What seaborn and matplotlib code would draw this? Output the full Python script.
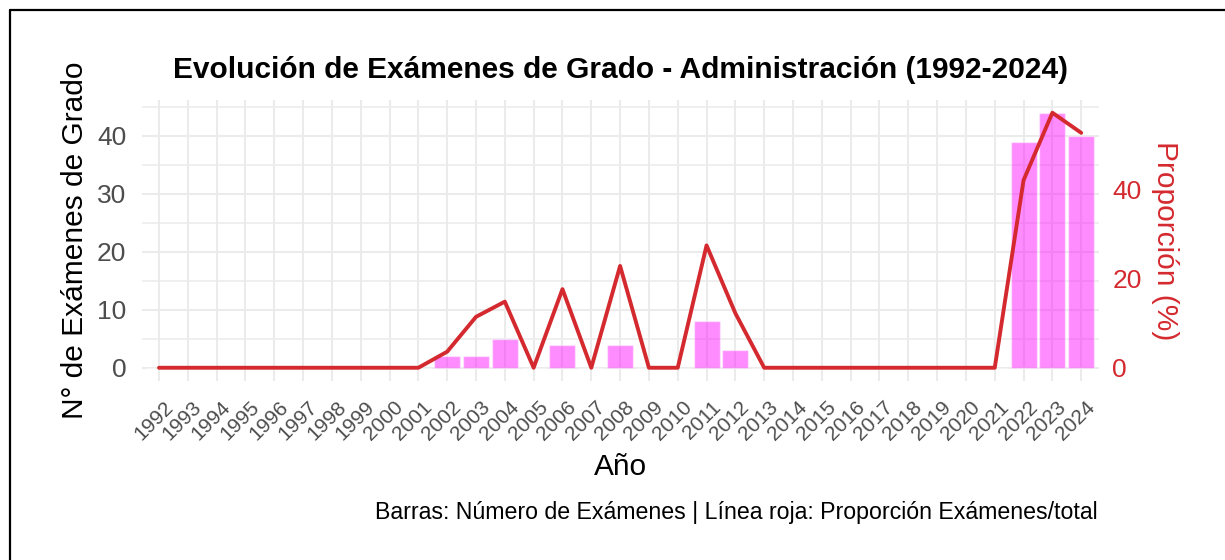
import numpy as np
import pandas as pd
import matplotlib
matplotlib.use('Agg')
import matplotlib.pyplot as plt
import matplotlib.transforms as mtransforms
from matplotlib.lines import Line2D
from matplotlib.ticker import MultipleLocator
import seaborn as sns

# datos
years = [str(y) for y in range(1992, 2025)]
examenes = [0, 0, 0, 0, 0, 0, 0, 0, 0, 0,
            2, 2, 5, 0, 4, 0, 4, 0, 0, 8, 3,
            0, 0, 0, 0, 0, 0, 0, 0, 0,
            39, 44, 40]
proporcion = [0, 0, 0, 0, 0, 0, 0, 0, 0, 0,
              3.6, 11.4, 14.8, 0, 17.6, 0, 22.8, 0, 0, 27.4, 12.2,
              0, 0, 0, 0, 0, 0, 0, 0, 0,
              42.0, 57.1, 52.6]

df = pd.DataFrame({'anio': years, 'n': examenes, 'prop': proporcion})

sns.set_theme(style='white')
plt.rcParams['font.family'] = ['Liberation Sans', 'DejaVu Sans']

rojo = '#D42A2F'
gris = '#4D4D4D'

fig = plt.figure(figsize=(12.25, 5.6), dpi=100)
ax = fig.add_axes([141.7 / 1225, 1 - 380.5 / 560, (1098.5 - 141.7) / 1225, (380.5 - 100) / 560])

sns.barplot(data=df, x='anio', y='n', color='#FF00FF', alpha=0.45, saturation=1,
            width=0.9, ax=ax, zorder=2)

# escala secundaria: la proporcion se ajusta al maximo de examenes
ymax = max(examenes)
escala = max(proporcion) / ymax
ylo, yhi = -0.05 * ymax, 1.05 * ymax
ax.set_ylim(ylo, yhi)
ax.set_xlim(-0.6, len(years) - 0.4)

ax2 = ax.twinx()
sns.lineplot(x=np.arange(len(years)), y=df['prop'], ax=ax2, color=rojo, linewidth=2.8)
ax2.set_ylim(ylo * escala, yhi * escala)
ax2.set_xlim(-0.6, len(years) - 0.4)
ax2.set_yticks([0, 20, 40])

# rejilla estilo theme_minimal
ax.yaxis.set_major_locator(MultipleLocator(10))
ax.yaxis.set_minor_locator(MultipleLocator(5))
ax.grid(True, which='major', color='#EBEBEB', linewidth=1.5)
ax.grid(True, which='minor', axis='y', color='#EBEBEB', linewidth=1.1)
ax.set_axisbelow(True)
ax2.grid(False)
for a in (ax, ax2):
    for s in a.spines.values():
        s.set_visible(False)

ax.tick_params(axis='y', which='both', length=0, pad=11, labelsize=19, labelcolor=gris)
ax.tick_params(axis='x', length=0, pad=17, labelsize=15, labelcolor=gris)
ax2.tick_params(axis='y', length=0, pad=10, labelsize=19, labelcolor=rojo)

desplaza = mtransforms.ScaledTranslation(11 / 100, 0, fig.dpi_scale_trans)
for lab in ax.get_xticklabels():
    lab.set_rotation(45)
    lab.set_ha('right')
    lab.set_va('center')
    lab.set_rotation_mode('anchor')
    lab.set_transform(lab.get_transform() + desplaza)

ax.set_xlabel('Año', fontsize=21.5, color='black', va='center')
ax.xaxis.set_label_coords(0.5, (380.5 - 467) / 280.5)
ax.set_ylabel('N° de Exámenes de Grado', fontsize=21.5, color='black', va='center')
ax.yaxis.set_label_coords((75 - 141.7) / 956.8, 0.5)
ax2.set_ylabel('Proporción (%)', fontsize=21.5, color=rojo, rotation=270, va='center')
ax2.yaxis.set_label_coords((1165 - 141.7) / 956.8, 0.5)

ax.text(0.5, 1 + 30 / 280.5, 'Evolución de Exámenes de Grado - Administración (1992-2024)',
        transform=ax.transAxes, ha='center', va='center', fontsize=21.5, fontweight='bold',
        color='black')

fig.text(1098 / 1225, 1 - 513 / 560,
         'Barras: Número de Exámenes | Línea roja: Proporción Exámenes/total',
         ha='right', va='center', fontsize=16.7, color='black')

# marco exterior
fig.add_artist(Line2D([10 / 1225, 1], [1 - 10 / 560, 1 - 10 / 560], color='black', linewidth=1.6))
fig.add_artist(Line2D([10 / 1225, 10 / 1225], [0, 1 - 10 / 560], color='black', linewidth=1.6))

fig.savefig('out.png', dpi=100)
